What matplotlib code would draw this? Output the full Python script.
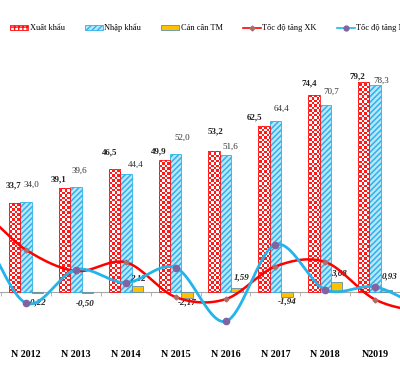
# Biểu đồ xuất nhập khẩu 2012-2019
import matplotlib
matplotlib.use('Agg')
import matplotlib.pyplot as plt
from matplotlib.patches import Patch
from matplotlib.lines import Line2D
import numpy as np

# Dữ liệu
nam = ['N 2012', 'N 2013', 'N 2014', 'N 2015', 'N 2016', 'N 2017', 'N 2018', 'N2019']
xuat_khau = [33.7, 39.1, 46.5, 49.9, 53.2, 62.5, 74.4, 79.2]
nhap_khau = [34.0, 39.6, 44.4, 52.0, 51.6, 64.4, 70.7, 78.3]
can_can = [-0.22, -0.50, 2.12, -2.17, 1.59, -1.94, 3.68, 0.93]
# tốc độ tăng (%), có thêm 2 điểm ngoài khung (2010-2011 và 2020) để đường cong bị cắt ở mép
toc_do_xk = [36.5, 36.5, 23.0, 16.0, 18.9, 7.3, 6.6, 17.5, 19.0, 6.5, 2.5, 2.5]
toc_do_nk = [30.0, 30.0, 5.3, 16.5, 12.1, 17.1, -0.8, 24.8, 9.8, 10.7, 4.0, 4.0]

# Vị trí nhãn (dx, dy tính bằng pixel so với đỉnh cột)
lech_xk = [(-1, 17), (-6, 9), (-5, 16), (-5, 8), (1, 20), (-9, 9), (-5, 11), (-6, 6)]
lech_nk = [(5, 17), (3.5, 16), (9.5, 10), (7, 16), (4.5, 8), (6, 13), (6.5, 13), (6, 4)]
lech_cc = [(0, -10), (-2, -11), (1, 8), (0, -10), (5, 10), (0, -9), (2, 9), (3, 13)]

FONT = 'Liberation Serif'
plt.rcParams['font.family'] = [FONT, 'DejaVu Serif']


def catmull_rom(y, n=40):
    # đường cong trơn kiểu Excel qua các điểm (x cách đều)
    y = np.asarray(y, dtype=float)
    p = np.concatenate([[y[0]], y, [y[-1]]])
    xs, ys = [], []
    t = np.linspace(0, 1, n, endpoint=False)
    for i in range(1, len(p) - 2):
        p0, p1, p2, p3 = p[i - 1], p[i], p[i + 1], p[i + 2]
        v = 0.5 * ((2 * p1) + (-p0 + p2) * t + (2 * p0 - 5 * p1 + 4 * p2 - p3) * t ** 2
                   + (-p0 + 3 * p1 - 3 * p2 + p3) * t ** 3)
        xs.extend(i - 1 + t)
        ys.extend(v)
    xs.append(len(y) - 1)
    ys.append(y[-1])
    return np.array(xs), np.array(ys)


fig = plt.figure(figsize=(4.0, 3.65), dpi=100)
ax = fig.add_axes([0, 28 / 365, 1, 297 / 365])
x = np.arange(len(nam))
w = 0.23
XLIM = (-0.525, 7.396)
YLIM = (-16.2 - 2 / 2.65, 95.1)

# trục x nằm ở mức 0 (đặt trước khi định dạng nhãn)
for s in ax.spines.values():
    s.set_visible(False)
ax.spines['bottom'].set_position(('data', 0))

# cột xuất khẩu: nền ô bàn cờ đỏ/trắng
b_xk = ax.bar(x - w, xuat_khau, w, facecolor='none', edgecolor='#ff1010',
              linewidth=0.6, zorder=2.5)
o = 2.4  # cỡ ô (pixel)
ny, nx = int(297 / o), int(400 / o)
ban_co = (np.add.outer(np.arange(ny), np.arange(nx)) % 2).astype(float)
anh = np.ones((ny, nx, 3))
anh[ban_co == 1] = [1.0, 0.1, 0.1]
for r in b_xk:
    im = ax.imshow(anh, extent=(*XLIM, *YLIM), origin='lower', aspect='auto',
                   interpolation='nearest', zorder=2)
    im.set_clip_path(r)

with plt.rc_context({'hatch.linewidth': 1.1}):
    b_nk = ax.bar(x, nhap_khau, w, facecolor='#b8e6fa', edgecolor='#2eb2ea',
                  hatch='//////', linewidth=0.6, zorder=2)
b_cc = ax.bar(x + w, can_can, w, facecolor='#ffc000', edgecolor='#5b8fb0',
              linewidth=0.6, zorder=2)

ax.set_xlim(*XLIM)
ax.set_ylim(*YLIM)
ax.axhline(0, color='#a6a6a6', lw=0.8, zorder=1)
ax.set_yticks([])
ax.set_xticks(x)
ax.set_xticklabels(nam, fontsize=7.2, fontweight='bold')
ax.tick_params(axis='x', length=0, pad=42)
ax.set_xticks(np.arange(-0.5, 8, 1), minor=True)
ax.tick_params(axis='x', which='minor', length=3, color='#a6a6a6')

px = 0.72  # pixel -> point
for i in range(len(nam)):
    r = b_xk[i]
    ax.annotate(f'{xuat_khau[i]:.1f}'.replace('.', ','),
                (r.get_x() + r.get_width() / 2, r.get_height()),
                xytext=(lech_xk[i][0] * px, lech_xk[i][1] * px), textcoords='offset points',
                ha='center', va='center', fontsize=6.5, fontweight='bold', color='#222222')
    r = b_nk[i]
    ax.annotate(f'{nhap_khau[i]:.1f}'.replace('.', ','),
                (r.get_x() + r.get_width() / 2, r.get_height()),
                xytext=(lech_nk[i][0] * px, lech_nk[i][1] * px), textcoords='offset points',
                ha='center', va='center', fontsize=6.5, color='#333333')
    r = b_cc[i]
    ax.annotate(f'{can_can[i]:.2f}'.replace('.', ','),
                (r.get_x() + r.get_width() / 2, max(can_can[i], 0)),
                xytext=(lech_cc[i][0] * px, lech_cc[i][1] * px), textcoords='offset points',
                ha='center', va='center', fontsize=6.5, fontweight='bold', style='italic',
                color='#222222', zorder=6)

# Trục phụ cho tốc độ tăng
ax2 = ax.twinx()
ax2.set_ylim(-5.33 - 2 / 3, 93)
ax2.set_xlim(ax.get_xlim())
for s in ax2.spines.values():
    s.set_visible(False)
ax2.set_yticks([])

x_ext = np.arange(-2, len(nam) + 2)
for du_lieu, mau, lw in [(toc_do_xk, '#ff0000', 1.8), (toc_do_nk, '#22b4ea', 2.0)]:
    xs, ys = catmull_rom(du_lieu)
    ax2.plot(xs + x_ext[0], ys, color=mau, lw=lw, zorder=3)
ax2.plot(x, toc_do_xk[2:-2], ls='none', marker='D', ms=2.5, color='#b06b6b', zorder=4)
ax2.plot(x, toc_do_nk[2:-2], ls='none', marker='o', ms=4.5, color='#8064a2', zorder=4)

# Chú thích
handles = [
    Patch(facecolor='white', edgecolor='#ff1010', hatch='++++', lw=0.6),
    Patch(facecolor='#b8e6fa', edgecolor='#2eb2ea', hatch='//////', lw=0.6),
    Patch(facecolor='#ffc000', edgecolor='#5b8fb0', lw=0.6),
    Line2D([], [], color='#ff0000', lw=1.2, marker='D', ms=2.5, mfc='#b06b6b', mec='#b06b6b'),
    Line2D([], [], color='#22b4ea', lw=1.2, marker='o', ms=3.5, mfc='#8064a2', mec='#8064a2'),
]
labels = ['Xuất khẩu', 'Nhập khẩu', 'Cán cân TM', 'Tốc độ tăng XK', 'Tốc độ tăng NK']
fig.legend(handles, labels, loc='center left', bbox_to_anchor=(0.025, 1 - 28 / 365),
           ncol=5, frameon=False, fontsize=6, handlelength=2.2, handleheight=0.5,
           handletextpad=0.15, columnspacing=2.4, borderpad=0, borderaxespad=0)

fig.savefig('out.png', dpi=100)
